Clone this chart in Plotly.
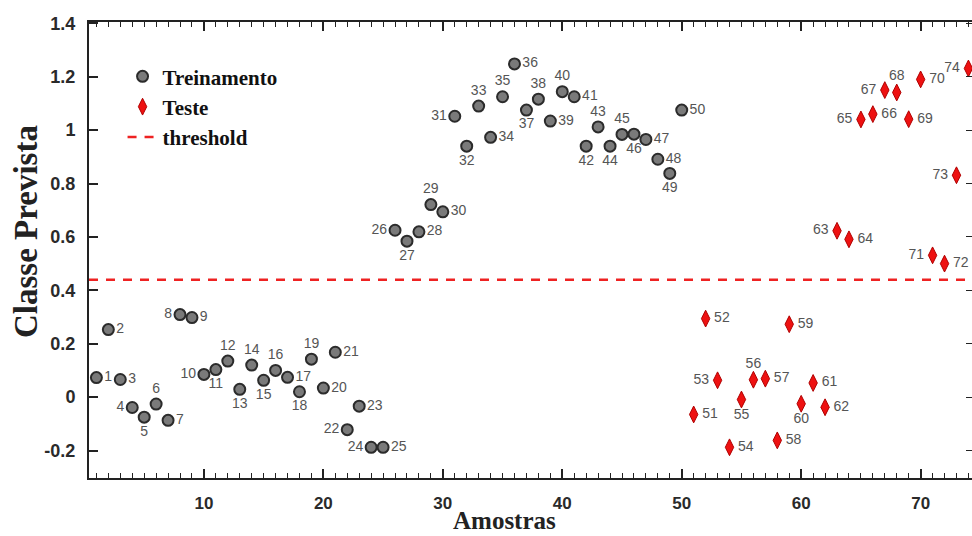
import plotly.graph_objects as go

# ---- data ----
train_x = list(range(1, 51))
train_y = [0.073, 0.253, 0.066, -0.039, -0.075, -0.026, -0.087, 0.309, 0.298, 0.085,
           0.103, 0.135, 0.029, 0.120, 0.063, 0.100, 0.074, 0.020, 0.142, 0.034,
           0.168, -0.122, -0.034, -0.188, -0.188, 0.625, 0.584, 0.619, 0.721, 0.694,
           1.052, 0.940, 1.090, 0.973, 1.125, 1.248, 1.075, 1.116, 1.034, 1.144,
           1.125, 0.940, 1.012, 0.940, 0.984, 0.985, 0.965, 0.891, 0.838, 1.075]
train_pos = ["R", "R", "R", "L", "B", "T", "R", "L", "R", "L",
             "B", "T", "B", "T", "B", "T", "R", "B", "T", "R",
             "R", "L", "R", "L", "R", "L", "B", "R", "T", "R",
             "L", "B", "T", "R", "T", "R", "B", "T", "R", "T",
             "R", "B", "T", "B", "T", "B", "R", "R", "B", "R"]

test_x = list(range(51, 75))
test_y = [-0.065, 0.294, 0.063, -0.188, -0.009, 0.065, 0.069, -0.162, 0.273, -0.025,
          0.053, -0.038, 0.623, 0.591, 1.040, 1.060, 1.150, 1.141, 1.041, 1.190,
          0.531, 0.500, 0.831, 1.231]
test_pos = ["R", "R", "L", "R", "B", "T", "R", "R", "R", "B",
            "R", "R", "L", "R", "L", "R", "L", "T", "R", "R",
            "L", "R", "L", "L"]

threshold = 0.44
x_range = [0.38, 74.3]
y_range = [-0.303, 1.405]
y_ticks = [-0.2, 0, 0.2, 0.4, 0.6, 0.8, 1, 1.2, 1.4]
y_tick_text = ["-0.2", "0", "0.2", "0.4", "0.6", "0.8", "1", "1.2", "1.4"]
x_ticks = [10, 20, 30, 40, 50, 60, 70]

posmap = {"R": "middle right", "L": "middle left", "T": "top center", "B": "bottom center"}
label_font = dict(family="Liberation Sans, Arial", size=14, color="#555555")
serif = "Liberation Serif, Times New Roman"

fig = go.Figure()
fig.add_trace(go.Scatter(
    x=train_x, y=train_y, mode="markers+text", name="Treinamento",
    text=[str(v) for v in train_x], textposition=[posmap[p] for p in train_pos],
    textfont=label_font,
    marker=dict(symbol="circle", size=11, color="#7a7a7a", line=dict(color="#2b2b2b", width=2)),
))
fig.add_trace(go.Scatter(
    x=test_x, y=test_y, mode="markers+text", name="Teste",
    text=[str(v) for v in test_x], textposition=[posmap[p] for p in test_pos],
    textfont=label_font,
    marker=dict(symbol="diamond-tall", size=12, color="#ee1111", line=dict(color="#b00000", width=1)),
))
fig.add_trace(go.Scatter(
    x=x_range, y=[threshold, threshold], mode="lines", name="threshold",
    line=dict(color="#ee2222", width=2.5, dash="9px,8px"),
))
# right-side ticks only
fig.add_trace(go.Scatter(x=x_range, y=[threshold, threshold], yaxis="y2", mode="lines",
                         line=dict(width=0), showlegend=False, hoverinfo="skip"))

axis_font = dict(family="Liberation Sans, Arial", size=17, color="#2a2a2a", weight="bold")
fig.update_layout(
    width=972, height=536,
    margin=dict(l=89, r=0, t=22, b=58),
    plot_bgcolor="white", paper_bgcolor="white",
    showlegend=True,
    legend=dict(x=0.038, y=0.925, xanchor="left", yanchor="top",
                bgcolor="rgba(0,0,0,0)", tracegroupgap=0,
                font=dict(family=serif, size=21, color="#111111", weight="bold")),
    xaxis=dict(range=x_range, tickvals=x_ticks, ticks="inside", ticklen=9, tickwidth=1.5,
               tickcolor="#222", showline=True, linecolor="#222", linewidth=2, mirror="ticks",
               showgrid=False, zeroline=False, tickfont=axis_font, ticklabelstandoff=9,
               minor=dict(dtick=1, tick0=0, ticks="inside", ticklen=5, tickcolor="#222", tickwidth=1.2, showgrid=False)),
    yaxis=dict(range=y_range, tickvals=y_ticks, ticktext=y_tick_text, ticks="inside", ticklen=9,
               tickwidth=1.5, tickcolor="#222", showline=True, linecolor="#222", linewidth=2,
               showgrid=False, zeroline=False, tickfont=dict(axis_font, size=18), ticklabelstandoff=8),
    yaxis2=dict(range=y_range, overlaying="y", side="right", tickvals=y_ticks, ticks="inside",
                ticklen=6, tickcolor="#222", showticklabels=False, showline=False, showgrid=False, zeroline=False),
    annotations=[
        dict(text="Amostras", xref="paper", yref="paper", x=0.47, y=-0.1275,
             xanchor="center", yanchor="bottom", showarrow=False,
             font=dict(family=serif, size=25, color="#222", weight="bold")),
        dict(text="Classe Prevista", xref="paper", yref="paper", x=-0.0713, y=0.5395,
             xanchor="center", yanchor="middle", showarrow=False, textangle=-90,
             font=dict(family=serif, size=33, color="#222", weight="bold")),
    ],
)
fig.write_html("out.html", config={"displayModeBar": False},
               post_script="document.body.style.margin='0';document.body.style.overflow='hidden';")
